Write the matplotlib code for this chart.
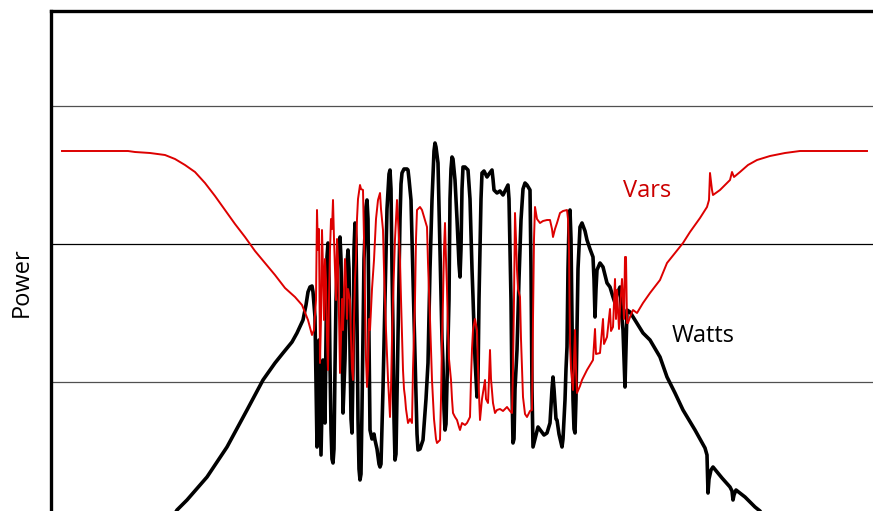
import matplotlib
matplotlib.use("Agg")
import matplotlib.pyplot as plt

# Time axis in arbitrary units, power in arbitrary units (gridlines at 137.5 / 275 / 412.5)
watts_t = [160, 177, 187, 207, 227, 247, 263, 275, 283, 292, 297, 303, 306, 308, 310, 312, 313, 314, 315,
           316, 317, 318, 319, 320, 321, 322, 323, 324, 325, 326, 327, 328, 329, 330, 331, 332, 333, 334, 335,
           336, 338, 340, 341, 342, 343, 345, 347, 348, 349, 350, 351, 352, 353, 354, 355, 356, 357, 358, 359,
           360, 361, 362, 364, 366, 367, 368, 369, 370, 372, 374, 375, 377, 379, 380, 381, 383, 385, 387, 389,
           390, 391, 392, 393, 394, 395, 396, 398, 400, 401, 402, 404, 407, 408, 409, 411, 413, 415, 417, 418,
           420, 423, 426, 428, 430, 432, 434, 435, 436, 438, 440, 442, 443, 444, 445, 446, 448, 449, 450, 451,
           452, 453, 455, 457, 459, 460, 461, 462, 463, 465, 468, 470, 472, 473, 475, 477, 478, 479, 480, 481,
           482, 484, 487, 489, 492, 493, 494, 497, 500, 503, 506, 508, 509, 510, 511, 512, 513, 514, 515, 517,
           519, 521, 523, 525, 527, 530, 531, 532, 533, 535, 538, 541, 544, 547, 550, 552, 553, 554, 556, 557,
           559, 562, 563, 565, 566, 567, 568, 569, 570, 571, 572, 573, 574, 575, 576, 577, 578, 580, 582, 585,
           587, 590, 593, 594, 595, 596, 597, 600, 603, 605, 607, 610, 613, 615, 617, 620, 621, 622, 623, 624,
           625, 626, 627, 630, 635, 643, 650, 660, 667, 675, 683, 695, 705, 707, 708, 709, 711, 713, 722, 730,
           732, 733, 734, 736, 745, 755, 760, 770]
watts_v = [-21, 9, 19, 42, 72, 109, 139, 156, 166, 177, 186, 199, 214, 227, 232, 233, 227, 215, 202,
           140, 72, 120, 179, 120, 64, 110, 159, 130, 96, 180, 262, 276, 240, 156, 90, 60, 56, 70, 150,
           219, 270, 282, 260, 180, 106, 160, 255, 269, 250, 170, 100, 86, 150, 270, 296, 280, 200, 100, 50,
           39, 45, 110, 260, 312, 319, 300, 180, 89, 80, 85, 79, 70, 55, 52, 55, 130, 219, 310, 345,
           349, 330, 250, 189, 100, 59, 65, 180, 300, 335, 346, 350, 350, 349, 340, 319, 240, 159, 85, 69,
           70, 79, 120, 156, 250, 319, 368, 376, 372, 356, 270, 180, 156, 110, 89, 95, 180, 219, 320, 350,
           362, 360, 339, 300, 255, 242, 270, 330, 352, 352, 349, 320, 250, 222, 160, 122, 140, 220, 269, 320,
           346, 348, 342, 345, 349, 340, 329, 326, 328, 324, 330, 334, 320, 270, 219, 130, 76, 80, 130, 169,
           240, 299, 330, 336, 334, 329, 250, 130, 72, 80, 92, 88, 84, 86, 96, 130, 142, 130, 100, 99,
           85, 72, 80, 119, 150, 172, 250, 295, 309, 280, 200, 119, 90, 86, 120, 189, 250, 292, 296, 288,
           279, 270, 262, 240, 202, 230, 249, 256, 252, 244, 236, 232, 222, 216, 225, 232, 215, 200, 189, 160,
           132, 170, 209, 207, 199, 186, 179, 162, 142, 126, 109, 89, 71, 64, 26, 40, 49, 52, 41, 32,
           28, 19, 24, 29, 22, 12, 8, -11]

vars_t = [62, 128, 135, 150, 165, 175, 185, 195, 205, 215, 225, 235, 245, 255, 265, 275,
          285, 295, 302, 308, 312, 314, 316,
          317, 318, 319, 320, 321, 322, 323, 324, 325, 326, 327, 328, 329, 330, 331, 332, 333, 334, 335,
          336, 337, 338, 339, 340, 341, 342, 343, 344, 345, 346, 347, 348, 350, 351, 352, 353, 354, 355,
          356, 357, 358, 360, 361, 363, 364, 365, 366, 367, 368, 369, 370, 372, 374, 376, 378, 380, 381,
          383, 384, 386, 388, 390, 391, 392, 393, 395, 397, 398, 400, 401, 403, 404, 405, 406, 408, 410,
          412, 413, 415, 416, 417, 420, 422, 425, 427, 428, 430, 432, 434, 436, 437, 440, 441, 442, 443,
          444, 445, 446, 447, 448, 449, 450, 451, 452, 453, 455, 457, 459, 460, 462, 465, 467, 470, 471,
          472, 473, 475, 477, 478, 480, 482, 485, 486, 488, 489, 490, 491, 493, 495, 497, 500, 503, 507,
          510, 512, 513, 514, 515, 516, 517, 518, 520, 521, 523, 525, 527, 530, 532, 533, 534, 535, 537,
          540, 543, 547, 550, 552, 553, 555, 557, 560, 563, 567, 568, 569, 570, 571, 573, 574, 575, 576,
          577, 580, 582, 587, 593, 595, 596, 600, 603, 604, 607, 610, 611, 613, 615, 616, 617, 619, 620,
          622, 624, 625, 626, 627, 628, 630, 633, 637, 643, 650, 660, 667, 675, 683, 690, 700, 707, 709,
          710, 712, 713, 720, 727, 730, 732, 734, 740, 748, 757, 770, 785, 800, 867]
vars_v = [368, 368, 367, 366, 364, 360, 354, 347, 336, 323, 309, 295, 282, 268, 256, 244,
          231, 222, 214, 199, 184, 189, 219,
          309, 269, 290, 156, 200, 289, 250, 199, 260, 239, 180, 149, 220, 269, 300, 290, 319, 280, 250,
          219, 280, 259, 200, 146, 180, 220, 189, 230, 260, 239, 200, 230, 219, 180, 150, 139, 200, 240,
          259, 300, 320, 334, 330, 329, 280, 219, 160, 132, 150, 200, 189, 230, 259, 300, 319, 326, 310,
          289, 250, 189, 140, 102, 130, 180, 219, 280, 319, 300, 259, 220, 149, 130, 122, 110, 96, 100,
          96, 150, 219, 280, 309, 312, 309, 299, 292, 256, 200, 139, 100, 80, 76, 79, 120, 180, 219,
          270, 296, 260, 230, 189, 160, 150, 139, 120, 106, 102, 99, 92, 89, 96, 94, 96, 102, 140,
          170, 189, 200, 189, 150, 99, 120, 139, 120, 116, 140, 169, 140, 116, 106, 109, 110, 108, 112,
          108, 106, 150, 219, 306, 280, 249, 230, 222, 180, 122, 105, 102, 108, 109, 200, 280, 312, 300,
          296, 298, 299, 299, 290, 282, 290, 296, 306, 308, 309, 300, 269, 176, 150, 129, 160, 189, 150,
          126, 133, 139, 149, 159, 190, 165, 166, 200, 175, 182, 210, 188, 192, 240, 200, 229, 190, 209,
          240, 200, 262, 262, 196, 196, 202, 209, 206, 216, 226, 239, 256, 266, 276, 287, 301, 312, 319,
          346, 329, 324, 329, 336, 339, 347, 342, 347, 354, 359, 363, 366, 368, 368]

grid_levels = [137.5, 275, 412.5]
grid_colors = ['#505050', '#000000', '#505050']

plt.rcParams['font.family'] = ['Open Sans', 'DejaVu Sans']

W, H = 873, 511
fig = plt.figure(figsize=(W / 100, H / 100), dpi=100)
fig.patch.set_facecolor('white')
ax = fig.add_axes([51 / W, 1 - 560 / H, (910 - 51) / W, (560 - 11) / H])
ax.set_xlim(51, 910)
ax.set_ylim(-41, 508)

for lvl, c in zip(grid_levels, grid_colors):
    ax.axhline(lvl, color=c, lw=0.9, zorder=1)

ax.plot(watts_t, watts_v, color='black', lw=2.6, zorder=2,
        solid_joinstyle='round', solid_capstyle='round')
ax.plot(vars_t, vars_v, color='#dd0000', lw=1.4, zorder=3)

ax.set_xticks([])
ax.set_yticks([])
for s in ['right', 'bottom']:
    ax.spines[s].set_visible(False)
for s in ['left', 'top']:
    ax.spines[s].set_linewidth(2.4)
    ax.spines[s].set_color('black')

ax.text(623, 322, 'Vars', color='#cc0000', fontsize=17, ha='left', va='baseline')
ax.text(672, 177, 'Watts', color='black', fontsize=17, ha='left', va='baseline')
fig.text(22 / W, 1 - 282 / H, 'Power', rotation=90, fontsize=17, ha='center', va='center')

fig.savefig('out.png', dpi=100)
